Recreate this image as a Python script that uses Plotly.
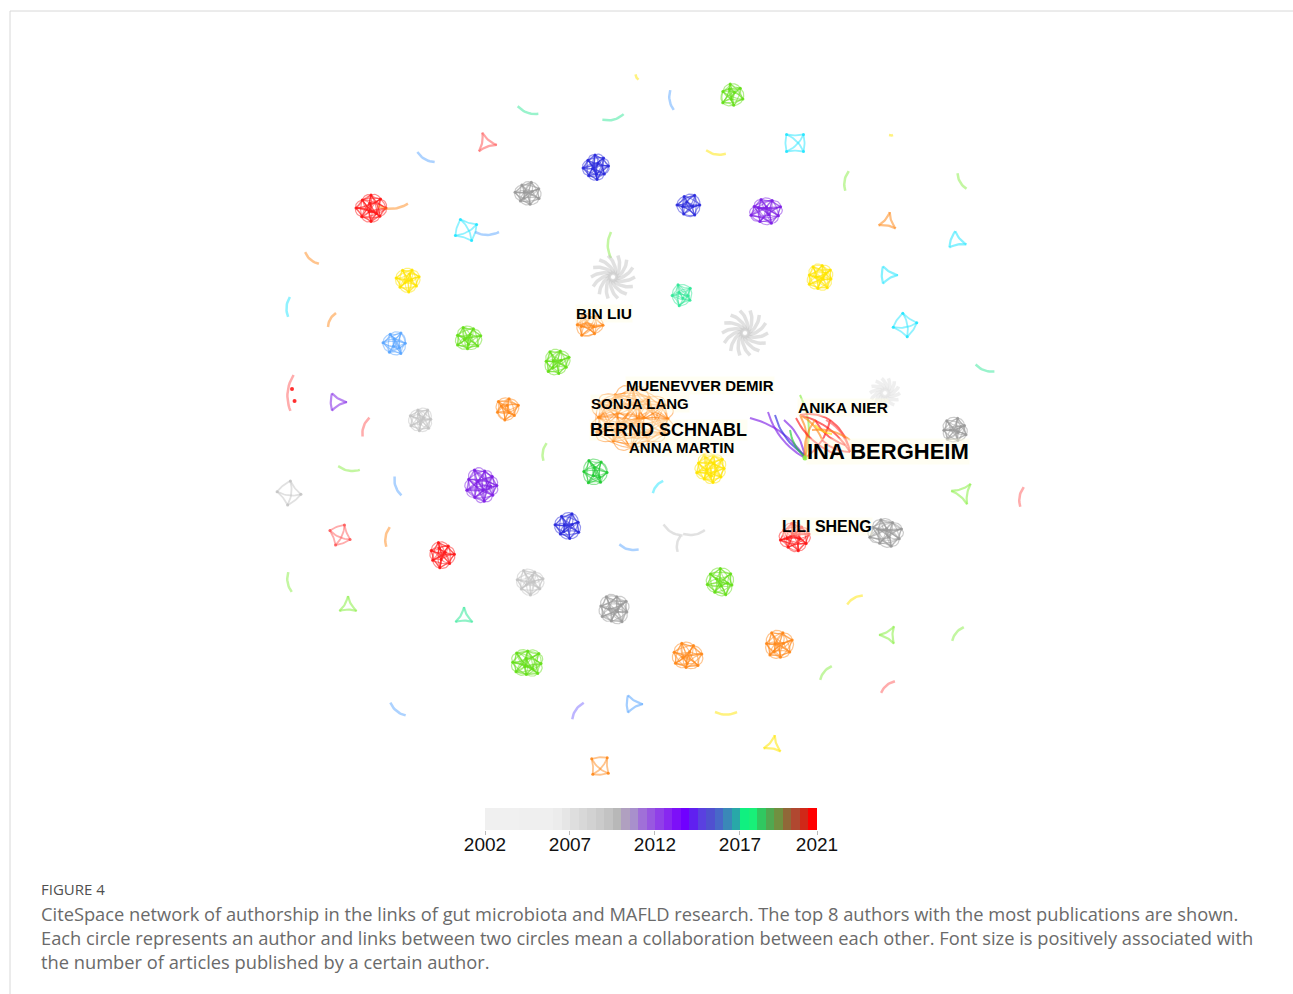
import numpy as np
import plotly.graph_objects as go

W, H = 1293, 994

COL = {
    'red': '#ff1a1a', 'orange': '#ff8a1c', 'yellow': '#ffe600', 'lime': '#66e01a',
    'green': '#22cc33', 'mint': '#33e899', 'cyan': '#22e5ff', 'blue': '#2b2bdd',
    'sky': '#5aa6ff', 'purple': '#7f22e6', 'grey': '#9a9a9a', 'lgrey': '#c4c4c4',
    'xlgrey': '#e0e0e0', 'violet': '#7b6cff', 'pink': '#ff5a5a', 'lgreen': '#88ee44',
}

# ---- dense author clusters (centre, radii, node count, colour) ----
dense_x = [371, 596, 528, 689, 766, 732, 408, 820, 682, 395, 468, 557, 589, 507, 421, 632,
           955, 482, 595, 711, 568, 795, 886, 442, 530, 614, 720, 527, 687, 779]
dense_y = [208, 167, 193, 205, 211, 95, 280, 277, 295, 343, 338, 362, 325, 409, 420, 418,
           430, 485, 472, 468, 526, 537, 533, 555, 582, 609, 582, 663, 656, 645]
dense_rx = [15, 13, 13, 12, 16, 12, 12, 13, 11, 12, 13, 13, 14, 12, 12, 40,
            13, 16, 13, 15, 13, 15, 17, 13, 14, 15, 14, 16, 15, 14]
dense_ry = [14, 13, 12, 12, 13, 12, 12, 13, 11, 12, 12, 13, 12, 12, 12, 30,
            12, 17, 13, 15, 13, 14, 14, 13, 13, 15, 14, 14, 14, 15]
dense_n = [8, 8, 7, 6, 8, 6, 7, 8, 5, 6, 7, 7, 6, 6, 7, 12,
           7, 9, 6, 9, 7, 8, 8, 7, 7, 8, 7, 8, 7, 7]
dense_c = ['red', 'blue', 'grey', 'blue', 'purple', 'lime', 'yellow', 'yellow', 'mint', 'sky',
           'lime', 'lime', 'orange', 'orange', 'lgrey', 'orange', 'grey', 'purple', 'green',
           'yellow', 'blue', 'red', 'grey', 'red', 'lgrey', 'grey', 'lime', 'lime', 'orange', 'orange']

# ---- small 3- and 4-author groups ----
quad_x = [795, 466, 905, 289, 340, 600]
quad_y = [143, 230, 325, 493, 535, 766]
quad_r = [12, 12, 12, 12, 11, 11]
quad_c = ['cyan', 'cyan', 'cyan', 'lgrey', 'pink', 'orange']

tri_x = [486, 888, 957, 888, 337, 963, 348, 464, 889, 633, 773]
tri_y = [143, 222, 241, 275, 402, 493, 606, 617, 635, 704, 745]
tri_r = [11, 10, 10, 10, 10, 12, 10, 10, 10, 10, 10]
tri_rot = [10, -80, 20, 0, 0, 190, -90, 30, -60, 0, 40]
tri_d = [0, 0, 1, 1, 1, 0, 0, 0, 0, 1, 0]
tri_c = ['pink', 'orange', 'cyan', 'cyan', 'purple', 'lgreen', 'lgreen', 'mint', 'lgreen', 'sky', 'yellow']

# ---- two-author links (centre, length, angle, colour) ----
arc_x = [528, 613, 672, 637, 426, 716, 891, 847, 962, 312, 289, 332, 366, 349, 398, 545, 658,
         388, 290, 629, 985, 1022, 958, 855, 826, 888, 398, 578, 726, 611, 393, 487, 292,
         673, 694, 679]
arc_y = [110, 117, 100, 77, 157, 152, 135, 181, 181, 258, 307, 320, 427, 468, 486, 452, 487,
         537, 582, 547, 368, 497, 634, 600, 673, 687, 709, 711, 712, 245, 205, 232, 393,
         530, 532, 544]
arc_len = [22, 22, 20, 6, 20, 20, 4, 20, 18, 18, 20, 16, 20, 22, 20, 18, 16,
           20, 20, 20, 20, 20, 18, 18, 18, 18, 20, 20, 22, 26, 30, 24, 36,
           22, 22, 16]
arc_ang = [20, -15, 80, 60, 30, 10, 0, 100, 60, 40, 95, 120, 110, 10, 70, 100, 130,
           100, 80, 15, 20, 100, 130, 150, 130, 140, 40, 125, 0, 90, -5, 0, 95,
           30, -10, 100]
arc_c = ['mint', 'mint', 'sky', 'yellow', 'sky', 'yellow', 'yellow', 'lgreen', 'lgreen',
         'orange', 'cyan', 'orange', 'pink', 'lgreen', 'sky', 'lgreen', 'cyan', 'orange',
         'lgreen', 'sky', 'mint', 'pink', 'lgreen', 'yellow', 'lgreen', 'pink', 'sky',
         'violet', 'yellow', 'lgreen', 'orange', 'sky', 'pink', 'lgrey', 'lgrey', 'lgrey']

# ---- star-shaped groups ----
star_x = [613, 745, 885]
star_y = [277, 333, 393]
star_r = [22, 23, 15]
star_c = ['lgrey', 'lgrey', 'xlgrey']

# ---- Bergheim collaboration group (edge list) ----
bg_x0 = [750, 768, 784, 775, 800, 790, 800, 815, 830, 805, 800, 822, 800, 815, 800, 815, 826, 796, 812]
bg_y0 = [418, 412, 420, 415, 395, 430, 415, 420, 420, 458, 415, 440, 415, 420, 415, 425, 420, 418, 430]
bg_x1 = [805, 805, 805, 805, 805, 806, 850, 845, 850, 830, 830, 850, 805, 805, 822, 832, 848, 838, 850]
bg_y1 = [458, 458, 458, 455, 458, 458, 452, 445, 452, 420, 420, 452, 458, 458, 440, 434, 446, 455, 440]
bg_c = ['purple', 'purple', 'purple', 'blue', 'lgreen', 'green', 'red', 'red', 'red', 'red',
        'red', 'red', 'orange', 'orange', 'orange', 'yellow', 'pink', 'red', 'orange']

# ---- labels of top authors ----
lab_text = ['BIN LIU', 'MUENEVVER DEMIR', 'SONJA LANG', 'BERND SCHNABL', 'ANNA MARTIN',
            'ANIKA NIER', 'INA BERGHEIM', 'LILI SHENG']
lab_x = [575, 625, 590, 589, 628, 797, 806, 781]
lab_y = [313, 385, 403, 430, 447, 407, 451, 526]
lab_size = [15.5, 15, 15, 18, 15, 15.5, 22, 16]

# ---- timeline colour bar ----
bar_colors = ['#f0f0f0'] * 4 + ['#efefef'] * 4 + ['#ececec', '#e6e6e6', '#dedede', '#d8d8d8',
              '#d2d2d2', '#cbcbcb', '#c3c3c3', '#b8b8b8', '#b0a0c0', '#a890cc', '#a070d8',
              '#9858e0', '#9040e8', '#8828f0', '#7d10f8', '#7000ff', '#6020f0', '#5a40e0',
              '#5050d0', '#4868c8', '#3a88b8', '#28a8a8', '#10f080', '#18f078', '#30c860',
              '#50a850', '#709040', '#906838', '#b04830', '#d02818', '#ff0000']
bar_tick_text = ['2002', '2007', '2012', '2017', '2021']
bar_tick_pos = [0.0, 0.256, 0.512, 0.768, 1.0]   # position along the bar (fraction)

caption_title = 'FIGURE 4'
caption_lines = [
    'CiteSpace network of authorship in the links of gut microbiota and MAFLD research. The top 8 authors with the most publications are shown.',
    'Each circle represents an author and links between two circles mean a collaboration between each other. Font size is positively associated with',
    'the number of articles published by a certain author.',
]


def rgba(name, a):
    h = COL[name].lstrip('#')
    r, g, b = int(h[0:2], 16), int(h[2:4], 16), int(h[4:6], 16)
    return f'rgba({r},{g},{b},{a})'


def bez(p0, p1, ctrl, k=14):
    t = np.linspace(0, 1, k)
    xs = (1 - t) ** 2 * p0[0] + 2 * (1 - t) * t * ctrl[0] + t ** 2 * p1[0]
    ys = (1 - t) ** 2 * p0[1] + 2 * (1 - t) * t * ctrl[1] + t ** 2 * p1[1]
    return list(xs) + [None], list(ys) + [None]


def curve(p0, p1, curv):
    mx, my = (p0[0] + p1[0]) / 2, (p0[1] + p1[1]) / 2
    dx, dy = p1[0] - p0[0], p1[1] - p0[1]
    return bez(p0, p1, (mx - dy * curv, my + dx * curv))


def toward(p0, p1, c, f):
    mx, my = (p0[0] + p1[0]) / 2, (p0[1] + p1[1]) / 2
    return bez(p0, p1, (mx + (mx - c[0]) * f, my + (my - c[1]) * f))


fig = go.Figure()


def add_lines(xs, ys, color, width, alpha):
    fig.add_trace(go.Scatter(x=xs, y=ys, mode='lines', line=dict(color=rgba(color, alpha), width=width),
                             hoverinfo='skip', showlegend=False))


def add_nodes(xs, ys, color, size=3.5):
    fig.add_trace(go.Scatter(x=xs, y=ys, mode='markers', marker=dict(color=rgba(color, 0.9), size=size),
                             hoverinfo='skip', showlegend=False))


RADIAL = [1.0, 0.84, 0.96, 0.88, 1.0, 0.82, 0.93, 0.9, 0.97, 0.86, 1.0, 0.9]

for i in range(len(dense_x)):
    cx, cy, rx, ry, n, c = dense_x[i], dense_y[i], dense_rx[i], dense_ry[i], dense_n[i], dense_c[i]
    ph = 0.7 * i
    pts = []
    for k in range(n):
        a = ph + 2 * np.pi * k / n
        f = RADIAL[(k + i) % len(RADIAL)]
        pts.append((cx + rx * f * np.cos(a), cy + ry * f * np.sin(a)))
    inner = [(cx + 0.3 * rx * np.cos(ph + 2), cy + 0.3 * ry * np.sin(ph + 2)),
             (cx + 0.35 * rx * np.cos(ph + 4.5), cy + 0.35 * ry * np.sin(ph + 4.5)),
             (cx + 0.55 * rx * np.cos(ph + 0.8), cy + 0.55 * ry * np.sin(ph + 0.8))]
    allp = pts + inner
    xs, ys = [], []
    for a_ in range(len(allp)):
        for b_ in range(a_ + 1, len(allp)):
            bx, by = curve(allp[a_], allp[b_], 0.16 if (a_ + b_) % 2 else -0.16)
            xs += bx
            ys += by
    for k in range(n):
        bx, by = toward(pts[k], pts[(k + 1) % n], (cx, cy), 0.4)
        xs += bx
        ys += by
    add_lines(xs, ys, c, 1.2, 0.5)
    add_nodes([p[0] for p in allp], [p[1] for p in allp], c, 3)

for i in range(len(quad_x)):
    cx, cy, r, c = quad_x[i], quad_y[i], quad_r[i], quad_c[i]
    pts = [(cx + r * np.cos(np.pi / 4 + np.pi / 2 * k + 0.3 * i), cy + r * np.sin(np.pi / 4 + np.pi / 2 * k + 0.3 * i)) for k in range(4)]
    xs, ys = [], []
    for k in range(4):
        bx, by = toward(pts[k], pts[(k + 1) % 4], (cx, cy), 0.25 if k % 2 else -0.2)
        xs += bx; ys += by
    for (a_, b_) in [(0, 2), (1, 3)]:
        bx, by = curve(pts[a_], pts[b_], 0.2)
        xs += bx; ys += by
    add_lines(xs, ys, c, 1.8, 0.5)
    add_nodes([p[0] for p in pts], [p[1] for p in pts], c, 3)

for i in range(len(tri_x)):
    cx, cy, r, c = tri_x[i], tri_y[i], tri_r[i], tri_c[i]
    rot = np.radians(tri_rot[i])
    pts = [(cx + r * np.cos(rot + 2 * np.pi * k / 3), cy + r * np.sin(rot + 2 * np.pi * k / 3)) for k in range(3)]
    xs, ys = [], []
    for k in range(3):
        f = 0.5 if (tri_d[i] and k == 1) else -0.6
        bx, by = toward(pts[k], pts[(k + 1) % 3], (cx, cy), f)
        xs += bx; ys += by
    add_lines(xs, ys, c, 2.2, 0.55)

for i in range(len(arc_x)):
    a = np.radians(arc_ang[i])
    L = arc_len[i] / 2
    p0 = (arc_x[i] - L * np.cos(a), arc_y[i] - L * np.sin(a))
    p1 = (arc_x[i] + L * np.cos(a), arc_y[i] + L * np.sin(a))
    bx, by = curve(p0, p1, 0.25)
    add_lines(bx, by, arc_c[i], 2.5, 0.5)
    if arc_c[i] == 'pink' and arc_len[i] > 30:
        add_nodes([p0[0] + 1, arc_x[i]], [arc_y[i] + 8, arc_y[i] - 4], 'red', 4)

for i in range(len(star_x)):
    cx, cy, r, c = star_x[i], star_y[i], star_r[i], star_c[i]
    xs, ys = [], []
    for k in range(14):
        a = 2 * np.pi * k / 14
        p0 = (cx + 3 * np.cos(a + 1.2), cy + 3 * np.sin(a + 1.2))
        p1 = (cx + r * np.cos(a), cy + r * np.sin(a))
        bx, by = curve(p0, p1, 0.25)
        xs += bx; ys += by
    add_lines(xs, ys, c, 3.5, 0.5)

for i in range(len(bg_x0)):
    bx, by = curve((bg_x0[i], bg_y0[i]), (bg_x1[i], bg_y1[i]), 0.2 if i % 2 else -0.2)
    add_lines(bx, by, bg_c[i], 2.0, 0.65)
add_nodes([805], [458], 'lgreen', 5)

# labels
for t, x, y, s in zip(lab_text, lab_x, lab_y, lab_size):
    fig.add_annotation(x=x, y=y, xref='x', yref='y', text=f'<b>{t}</b>', showarrow=False,
                       xanchor='left', yanchor='middle', borderpad=0,
                       bgcolor='rgba(255,252,228,0.45)',
                       font=dict(family='Liberation Sans, Arial', size=s, color='#000000'))

# colour bar
n_cells = len(bar_colors)
step = 1.0 / n_cells
centers = [step * (k + 0.5) for k in range(n_cells)]
fig.add_trace(go.Bar(x=centers, y=[1] * n_cells, width=[step] * n_cells, marker=dict(color=bar_colors, line=dict(width=0)),
                     xaxis='x2', yaxis='y2', hoverinfo='skip', showlegend=False))

# caption
fig.add_annotation(x=39, y=889, xref='x', yref='y', text=caption_title, showarrow=False, xanchor='left',
                   yanchor='middle', font=dict(family='Open Sans', size=15, color='#505050'))
for k, line in enumerate(caption_lines):
    fig.add_annotation(x=39, y=913 + 24 * k, xref='x', yref='y', text=line, showarrow=False, xanchor='left',
                       yanchor='middle', font=dict(family='Open Sans', size=18.3, color='#6a6a6a'))

fig.add_shape(type='rect', xref='x', yref='y', x0=10, y0=11, x1=1310, y1=1010,
              line=dict(color='#d8d8d8', width=1), layer='below')

fig.update_layout(
    width=W, height=H, margin=dict(l=0, r=0, t=0, b=0, pad=0, autoexpand=False),
    paper_bgcolor='white', plot_bgcolor='rgba(0,0,0,0)',
    xaxis=dict(range=[0, W], visible=False, domain=[0, 1], fixedrange=True, automargin=False),
    yaxis=dict(range=[H, 0], visible=False, domain=[0, 1], fixedrange=True, automargin=False),
    xaxis2=dict(range=[0, 1], domain=[485 / W, 817 / W], anchor='y2',
                tickmode='array', tickvals=bar_tick_pos, ticktext=bar_tick_text,
                ticks='outside', ticklen=4, tickcolor='#bbbbbb',
                showgrid=False, zeroline=False, showline=False, automargin=False,
                ticklabelstandoff=-7,
                tickfont=dict(family='Liberation Sans, Arial', size=19, color='#111111')),
    yaxis2=dict(range=[0, 1], domain=[1 - 830 / H, 1 - 808 / H], anchor='x2', visible=False,
                automargin=False),
    bargap=0,
)

fig.write_html('out.html', config={'displayModeBar': False},
               post_script="document.body.style.margin='0px';")
